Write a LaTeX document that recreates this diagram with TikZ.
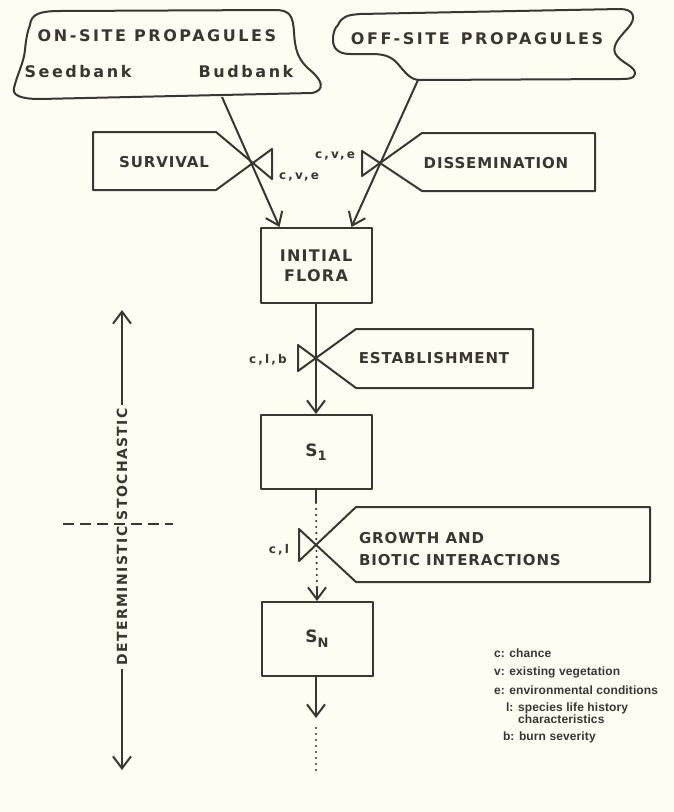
\documentclass[tikz,border=0pt]{standalone}
\usepackage{fontspec}
\setmainfont{DejaVu Sans}
\newfontfamily\cloudfont{DejaVu Sans}[LetterSpace=16]
\newfontfamily\boxfont{DejaVu Sans}[LetterSpace=6]
\newfontfamily\floraf{DejaVu Sans}[LetterSpace=8]
\newfontfamily\axisf{DejaVu Sans}[LetterSpace=10]
\newfontfamily\tagfont{DejaVu Sans}[LetterSpace=18]
\newfontfamily\legfont{Liberation Sans}[LetterSpace=1]
\usetikzlibrary{arrows.meta}
\definecolor{ink}{HTML}{3A3632}
\definecolor{paper}{HTML}{FDFDF1}
\tikzset{
  arr/.style={-{Straight Barb[length=12pt,width=18pt]}},
  statebox/.style={draw, minimum width=111pt, minimum height=74pt, inner sep=0pt},
  cloudtxt/.style={font=\cloudfont\bfseries\fontsize{16}{18}\selectfont, inner sep=0pt},
  boxlbl/.style={font=\boxfont\bfseries\fontsize{15}{22}\selectfont, inner sep=0pt},
  taglbl/.style={font=\tagfont\bfseries\fontsize{12}{12}\selectfont, inner sep=0pt},
  leglbl/.style={font=\legfont\bfseries\fontsize{12}{12}\selectfont, inner sep=0pt, anchor=west, align=left},
  dotline/.style={dash pattern=on 0pt off 6pt, line cap=round, line width=2.4pt},
}
\begin{document}
\begin{tikzpicture}[x=1pt,y=-1pt,line width=2pt,color=ink,line join=round]
\fill[paper] (0,0) rectangle (674,812);
\useasboundingbox (0,0) rectangle (674,812);

% ---- clouds ----
\draw (30,25) .. controls (31,14) and (40,11) .. (60,11)
  -- (275,10)
  .. controls (290,10) and (293,16) .. (294,32)
  .. controls (295,50) and (298,60) .. (310,70)
  .. controls (322,80) and (326,90) .. (312,93)
  -- (40,99)
  .. controls (20,99) and (12,95) .. (14,88)
  .. controls (17,75) and (24,62) .. (25,50)
  .. controls (26,38) and (28,30) .. (30,25) -- cycle;
\node[cloudtxt] (on) at (157,36) {ON-SITE PROPAGULES};
\node[cloudtxt] (seed) at (78,72) {Seedbank};
\node[cloudtxt] (bud) at (246,72) {Budbank};
\coordinate (onb) at (222,97);

\draw (338,25) .. controls (342,16) and (348,15) .. (360,14)
  -- (620,9)
  .. controls (634,9) and (637,18) .. (628,28)
  .. controls (620,37) and (612,45) .. (615,53)
  .. controls (620,63) and (636,66) .. (635,74)
  .. controls (634,79) and (628,79) .. (620,79)
  -- (420,80)
  .. controls (410,80) and (405,72) .. (398,64)
  .. controls (392,57) and (385,54) .. (372,54)
  -- (350,54)
  .. controls (338,54) and (333,48) .. (333,40)
  .. controls (333,32) and (335,28) .. (338,25) -- cycle;
\node[cloudtxt] (off) at (477,39) {OFF-SITE\hspace{3pt} PROPAGULES};
\coordinate (offb) at (418,80);

% ---- state boxes ----
\node[statebox, minimum height=75pt, font=\floraf\bfseries\fontsize{16}{20}\selectfont, align=center] (flora) at (316,265.5) {INITIAL\\FLORA};
\node[statebox, font=\fontsize{17}{18}\selectfont\bfseries] (s1) at (316,452) {S\raisebox{-4pt}{\fontsize{13}{13}\selectfont 1}};
\node[statebox, font=\fontsize{17}{18}\selectfont\bfseries] (sn) at (317,639) {S\raisebox{-5pt}{\fontsize{13}{13}\selectfont N}};

% ---- valves ----
\draw (272,149) -- (216,190) -- (93,190) -- (93,132) -- (216,132) -- (272,179) -- cycle;
\node[boxlbl] (surv) at (164,162) {SURVIVAL};
\node[taglbl] (tag1) at (299,177) {c,v,e};

\draw (362,151) -- (422,191) -- (595,191) -- (595,133) -- (422,133) -- (362,176) -- cycle;
\node[boxlbl] (diss) at (496,163) {DISSEMINATION};
\node[taglbl] (tag2) at (335,156) {c,v,e};

\draw (298,345) -- (356,388) -- (533,388) -- (533,329) -- (356,329) -- (298,371) -- cycle;
\node[boxlbl] (estab) at (434,358) {ESTABLISHMENT};
\node[taglbl] (tag3) at (268,360) {c,l,b};

\draw (299,529) -- (356,582) -- (650,582) -- (650,507) -- (356,507) -- (299,561) -- cycle;
\node[boxlbl, anchor=west, align=left] (growth) at (358,549) {GROWTH AND\\BIOTIC INTERACTIONS};
\node[taglbl] (tag4) at (279,550) {c,l};

% ---- connectors ----
\draw[arr] (onb) -- ([xshift=20pt]flora.north west);
\draw[arr] (offb) -- ([xshift=-21pt]flora.north east);
\draw[arr] (flora.south) -- (s1.north);
\coordinate (gtop) at (316,503);
\draw (s1.south) -- (gtop);
\draw[dotline] (gtop) -- ([yshift=8pt]sn.north);
\draw[arr] ([yshift=14pt]sn.north) -- (sn.north);
\coordinate (snout) at (316,718);
\draw[arr] (sn.south -| snout) -- (snout);
\coordinate (d1) at (316,728);
\coordinate (d2) at (316,770);
\draw[dotline] (d1) -- (d2);

% ---- axis ----
\node[rotate=90, font=\axisf\bfseries\fontsize{14}{15}\selectfont, inner sep=2pt] (axis) at (122,537) {DETERMINISTIC STOCHASTIC};
\coordinate (axtop) at (122,310);
\coordinate (axbot) at (122,770);
\draw[arr] (axis.east) -- (axtop);
\draw[arr] (axis.west) -- (axbot);
\coordinate (dl) at (63,524);
\coordinate (dr) at (173,524);
\draw[dash pattern=on 11pt off 6pt] (dl) -- (dr);

% ---- legend ----
\node[leglbl] (lc) at (493,653) {c: chance};
\node[leglbl] (lv) at (493,672) {v: existing vegetation};
\node[leglbl] (le) at (493,690) {e: environmental conditions};
\node[leglbl, font=\legfont\bfseries\fontsize{12}{11.5}\selectfont] (ll) at (505,713) {l: species life history\\\phantom{l: }characteristics};
\node[leglbl] (lb) at (502,737) {b: burn severity};
\end{tikzpicture}
\end{document}
